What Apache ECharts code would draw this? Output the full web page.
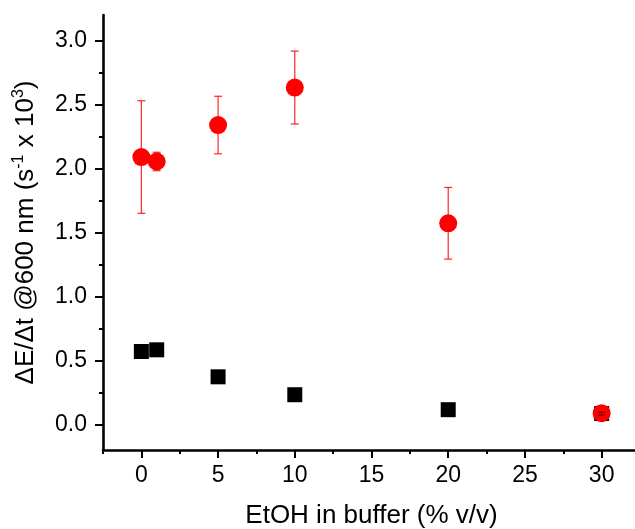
<!DOCTYPE html>
<html>
<head>
<meta charset="utf-8">
<script src="https://cdn.jsdelivr.net/npm/echarts@6/dist/echarts.min.js"></script>
<style>
html,body{margin:0;padding:0;background:#fff;}
#chart{width:635px;height:529px;}
</style>
</head>
<body>
<div id="chart"></div>
<script>
// ---- data ----
const etoh = [0, 1, 5, 10, 20, 30];
const redValues = [2.09, 2.055, 2.34, 2.633, 1.572, 0.088];
const redErrors = [0.44, 0.072, 0.225, 0.285, 0.28, 0.012];
const blackValues = [0.57, 0.583, 0.372, 0.232, 0.115, 0.085];
const blackErrors = [0, 0, 0, 0, 0, 0.012];
const xMajorTicks = [0, 5, 10, 15, 20, 25, 30];
const xMinorTicks = [-2.5, 2.5, 7.5, 12.5, 17.5, 22.5, 27.5, 32.5];
const yMajorTicks = [0, 0.5, 1.0, 1.5, 2.0, 2.5, 3.0];
const yMinorTicks = [0.25, 0.75, 1.25, 1.75, 2.25, 2.75];

const FONT = '"Liberation Sans", Arial, sans-serif';

const redPts = etoh.map((x, i) => [x, redValues[i]]);
const blackPts = etoh.map((x, i) => [x, blackValues[i]]);
const redErr = etoh.map((x, i) => [x, redValues[i], redErrors[i]]);
const blackErr = etoh.map((x, i) => [x, blackValues[i], blackErrors[i]]);

function errRender(color, width) {
  return function (params, api) {
    const x = api.value(0), y = api.value(1), e = api.value(2);
    if (!e) return null;
    const top = api.coord([x, y + e]);
    const bot = api.coord([x, y - e]);
    const hw = 4;
    const style = { stroke: color, lineWidth: width, fill: null };
    return {
      type: 'group',
      children: [
        { type: 'line', shape: { x1: top[0], y1: top[1], x2: bot[0], y2: bot[1] }, style },
        { type: 'line', shape: { x1: top[0] - hw, y1: top[1], x2: top[0] + hw, y2: top[1] }, style },
        { type: 'line', shape: { x1: bot[0] - hw, y1: bot[1], x2: bot[0] + hw, y2: bot[1] }, style }
      ]
    };
  };
}

const chart = echarts.init(document.getElementById('chart'), null, { renderer: 'canvas' });
const option = {
  animation: false,
  backgroundColor: '#fff',
  grid: { left: 103, top: 15, height: 435, width: 537, containLabel: false, outerBoundsMode: 'none' },
  xAxis: [
    {
      type: 'value', min: -2.5, max: 32.5,
      name: 'EtOH in buffer (% v/v)', nameLocation: 'middle', nameGap: 53,
      nameTextStyle: { fontFamily: FONT, fontSize: 26, color: '#000' },
      axisLine: { show: true, onZero: false, lineStyle: { color: '#000', width: 2.6 } },
      axisTick: { show: true, inside: false, length: 8, customValues: xMajorTicks, lineStyle: { color: '#000', width: 2 } },
      axisLabel: { show: true, customValues: xMajorTicks, margin: 14, fontFamily: FONT, fontSize: 23, color: '#000' },
      splitLine: { show: false }
    },
    {
      type: 'value', min: -2.5, max: 32.5, position: 'bottom',
      axisLine: { show: false, onZero: false },
      axisTick: { show: true, inside: false, length: 4, customValues: xMinorTicks, lineStyle: { color: '#000', width: 2 } },
      axisLabel: { show: false },
      splitLine: { show: false }
    }
  ],
  yAxis: [
    {
      type: 'value', min: -0.2, max: 3.2,
      name: '{n|ΔE/Δt @600 nm (s}{sup|-1}{n| x 10}{sup|3}{n|)}',
      nameLocation: 'middle', nameGap: 62,
      nameTextStyle: {
        fontFamily: FONT, fontSize: 26, color: '#000',
        rich: {
          n: { fontFamily: FONT, fontSize: 26, color: '#000', lineHeight: 30 },
          sup: { fontFamily: FONT, fontSize: 16, color: '#000', verticalAlign: 'top', lineHeight: 16, padding: [0, 0, 0, 0] }
        }
      },
      axisLine: { show: true, onZero: false, lineStyle: { color: '#000', width: 2.6 } },
      axisTick: { show: true, inside: false, length: 8, customValues: yMajorTicks, lineStyle: { color: '#000', width: 2 } },
      axisLabel: { show: true, customValues: yMajorTicks, margin: 16, fontFamily: FONT, fontSize: 23, color: '#000',
        formatter: v => v.toFixed(1) },
      splitLine: { show: false }
    },
    {
      type: 'value', min: -0.2, max: 3.2, position: 'left',
      axisLine: { show: false, onZero: false },
      axisTick: { show: true, inside: false, length: 4, customValues: yMinorTicks, lineStyle: { color: '#000', width: 2 } },
      axisLabel: { show: false },
      splitLine: { show: false }
    }
  ],
  series: [
    {
      type: 'scatter', name: 'black', data: blackPts, xAxisIndex: 0, yAxisIndex: 0,
      symbol: 'rect', symbolSize: 15, itemStyle: { color: '#000', opacity: 1 }, z: 2
    },
    {
      type: 'custom', name: 'redErr', data: redErr, xAxisIndex: 0, yAxisIndex: 0,
      renderItem: errRender('rgba(255,0,0,0.85)', 1.2), z: 3, silent: true
    },
    {
      type: 'scatter', name: 'red', data: redPts, xAxisIndex: 0, yAxisIndex: 0,
      symbol: 'circle', symbolSize: 18, itemStyle: { color: '#ff0000', opacity: 1 }, z: 4
    },
    {
      type: 'custom', name: 'blackErr', data: blackErr, xAxisIndex: 0, yAxisIndex: 0,
      renderItem: errRender('rgba(90,0,0,0.8)', 1), z: 5, silent: true
    }
  ]
};
chart.setOption(option);
</script>
</body>
</html>
